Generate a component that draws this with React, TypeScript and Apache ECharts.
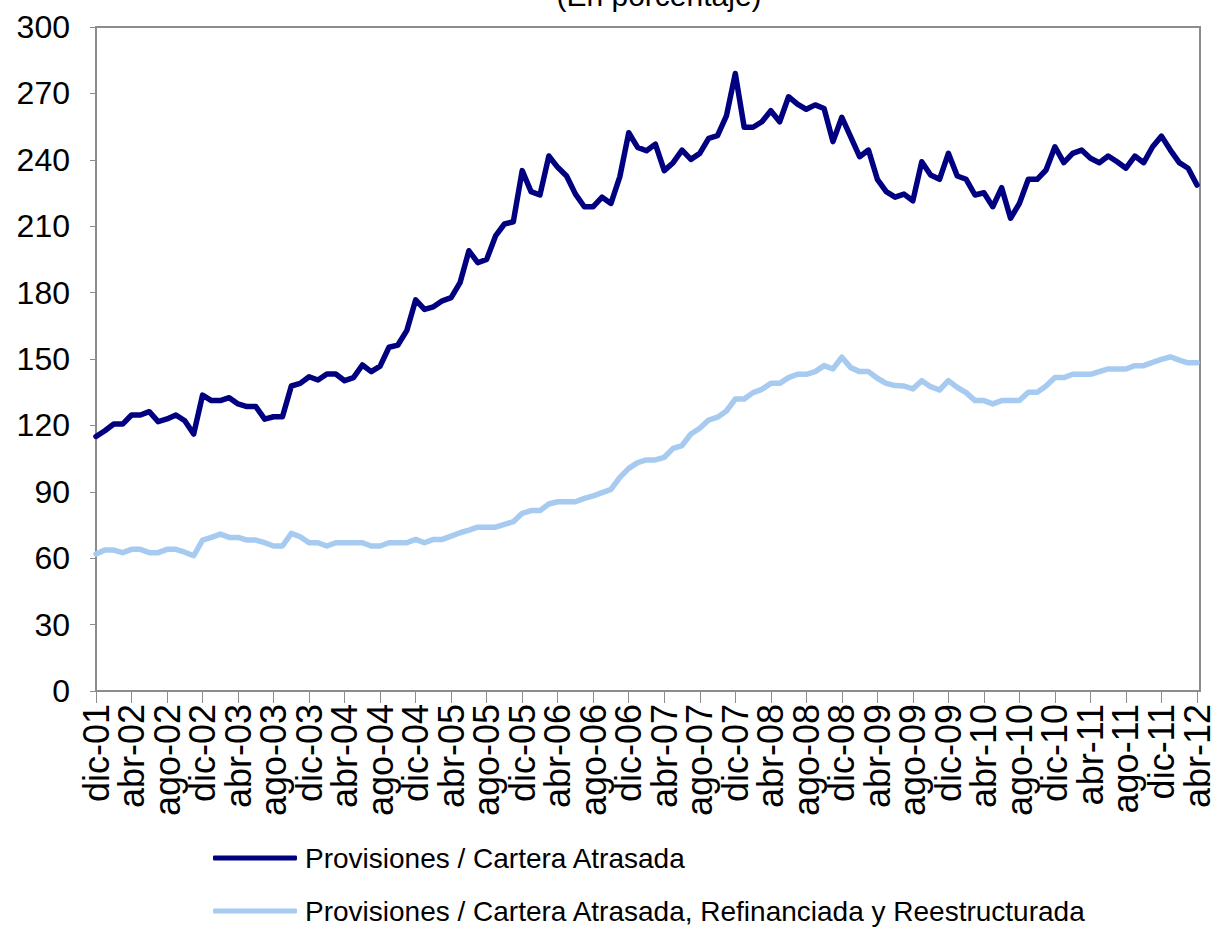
import React, { useEffect, useRef } from "react";
import * as echarts from "echarts";

const MONTH_ABBR = ["ene", "feb", "mar", "abr", "may", "jun", "jul", "ago", "sep", "oct", "nov", "dic"];
const YEARS = ["02", "03", "04", "05", "06", "07", "08", "09", "10", "11", "12"];
const LABEL_EVERY = 4;

// dic-01 ... abr-12 (monthly)
const CATEGORIES: string[] = ["dic-01"];
YEARS.forEach((y) => {
  MONTH_ABBR.forEach((m, i) => {
    if (y === "12" && i > 3) return;
    CATEGORIES.push(`${m}-${y}`);
  });
});

const SERIES_NAMES = [
  "Provisiones / Cartera Atrasada",
  "Provisiones / Cartera Atrasada, Refinanciada y Reestructurada",
];

// Provisiones / Cartera Atrasada
const CARTERA_ATRASADA = [
  115, 117.6, 120.6, 120.6, 124.7, 124.7, 126.2, 121.7, 122.9, 124.7, 122.1, 116.1,
  133.7, 131.2, 131.2, 132.5, 129.7, 128.5, 128.5, 122.8, 123.9, 123.9, 137.8, 139.0,
  142.0, 140.5, 143.2, 143.2, 140.2, 141.6, 147.3, 144.3, 146.8, 155.3, 156.3, 162.8,
  176.7, 172.4, 173.6, 176.3, 177.7, 184.5, 198.9, 193.5, 195.0, 205.6, 211.0, 212.0,
  235.1, 225.6, 224.1, 241.7, 236.6, 232.7, 224.5, 218.8, 218.8, 223.1, 220.3, 232.4,
  252.2, 245.6, 244.1, 247.1, 235.1, 238.7, 244.4, 240.2, 242.9, 249.7, 250.9, 259.8,
  279.0, 254.7, 254.7, 257.2, 262.2, 257.2, 268.5, 265.2, 262.8, 264.8, 263.2, 248.2,
  259.2, 250.4, 241.4, 244.4, 231.2, 225.6, 223.1, 224.5, 221.5, 239.1, 233.1, 231.2,
  242.9, 232.7, 231.2, 224.1, 225.1, 218.8, 227.4, 213.6, 220.3, 231.2, 231.2, 235.4,
  245.9, 238.7, 242.9, 244.4, 240.7, 238.7, 241.7, 239.1, 236.2, 241.7, 238.7, 245.9,
  250.7, 244.4, 238.7, 236.2, 228.6,
];

// Provisiones / Cartera Atrasada, Refinanciada y Reestructurada
const CARTERA_ARR = [
  61.9, 63.7, 63.7, 62.5, 64.0, 64.0, 62.5, 62.5, 64.0, 64.0, 62.7, 61.1,
  68.2, 69.4, 70.9, 69.4, 69.4, 68.2, 68.2, 67.0, 65.5, 65.5, 71.2, 69.7,
  67.0, 67.0, 65.5, 67.0, 67.0, 67.0, 67.0, 65.5, 65.5, 67.0, 67.0, 67.0,
  68.5, 67.0, 68.5, 68.5, 70.0, 71.5, 72.7, 74.0, 74.0, 74.0, 75.3, 76.5,
  80.3, 81.5, 81.5, 84.5, 85.5, 85.5, 85.5, 87.0, 88.2, 89.6, 91.1, 96.5,
  100.6, 103.2, 104.4, 104.4, 105.6, 109.6, 110.9, 116.1, 118.7, 122.4, 123.7, 126.5,
  131.9, 131.9, 134.8, 136.3, 139.0, 139.0, 141.6, 143.1, 143.1, 144.3, 147.0, 145.5,
  150.8, 146.1, 144.3, 144.3, 141.3, 139.0, 138.0, 137.8, 136.5, 140.2, 137.5, 136.0,
  140.2, 137.2, 134.8, 131.2, 131.2, 129.7, 131.2, 131.2, 131.2, 135.0, 135.0, 137.8,
  141.6, 141.6, 143.1, 143.1, 143.1, 144.3, 145.5, 145.5, 145.5, 147.0, 147.0, 148.5,
  149.8, 151.0, 149.5, 148.3, 148.3,
];

const SUBTITLE = "(En porcentaje)";
const FONT = "'Liberation Sans', Arial, sans-serif";

export default function App() {
  const ref = useRef<HTMLDivElement>(null);

  useEffect(() => {
    if (!ref.current) return;
    const chart = echarts.init(ref.current, undefined, { renderer: "svg" });
    const axisGray = "#8c8c8c";
    chart.setOption({
      animation: false,
      backgroundColor: "#ffffff",
      textStyle: { fontFamily: FONT },
      graphic: [
        {
          type: "text",
          x: 659,
          y: 10,
          style: {
            text: SUBTITLE,
            font: `30px ${FONT}`,
            fill: "#000",
            textAlign: "center",
            textVerticalAlign: "bottom",
          },
        },
        {
          // plot-area frame
          type: "rect",
          shape: { x: 96, y: 27, width: 1104, height: 664 },
          style: { fill: "none", stroke: axisGray, lineWidth: 2 },
          silent: true,
          z: 1,
        },
      ],
      grid: {
        left: 96,
        right: 18,
        top: 27,
        bottom: 237,
        show: false,
      },
      legend: {
        orient: "vertical",
        left: 213,
        top: 844,
        padding: 0,
        itemWidth: 84,
        itemHeight: 5,
        itemGap: 25,
        icon: "roundRect",
        data: SERIES_NAMES,
        textStyle: {
          fontFamily: FONT,
          fontSize: 28,
          lineHeight: 28,
          color: "#000",
          padding: [0, 0, 0, 3],
        },
      },
      xAxis: {
        type: "category",
        data: CATEGORIES,
        boundaryGap: false,
        axisLine: { show: true, lineStyle: { color: axisGray, width: 2 } },
        axisTick: {
          show: true,
          interval: LABEL_EVERY - 1,
          length: 12,
          lineStyle: { color: axisGray, width: 1 },
        },
        axisLabel: {
          interval: 0,
          rotate: 90,
          margin: 13,
          fontSize: 36,
          color: "#000",
          fontFamily: FONT,
          hideOverlap: false,
          formatter: (value: string, index: number) =>
            index % LABEL_EVERY === 0 ? value : "",
        },
        splitLine: { show: false },
      },
      yAxis: {
        type: "value",
        min: 0,
        max: 300,
        interval: 30,
        axisLine: { show: true, lineStyle: { color: axisGray, width: 2 } },
        axisTick: { show: true, length: 6, lineStyle: { color: axisGray, width: 1 } },
        axisLabel: { margin: 26, fontSize: 32, color: "#000", fontFamily: FONT },
        splitLine: { show: false },
      },
      series: [
        {
          name: SERIES_NAMES[0],
          type: "line",
          data: CARTERA_ATRASADA,
          showSymbol: false,
          symbol: "none",
          color: "#000080",
          lineStyle: { color: "#000080", width: 5.5, join: "round", cap: "round" },
        },
        {
          name: SERIES_NAMES[1],
          type: "line",
          data: CARTERA_ARR,
          showSymbol: false,
          symbol: "none",
          color: "#a6caf0",
          lineStyle: { color: "#a6caf0", width: 5.5, join: "round", cap: "round" },
        },
      ],
    });
    return () => chart.dispose();
  }, []);

  return (
    <div
      ref={ref}
      style={{ position: "absolute", left: 0, top: 0, width: 1215, height: 928 }}
    />
  );
}
